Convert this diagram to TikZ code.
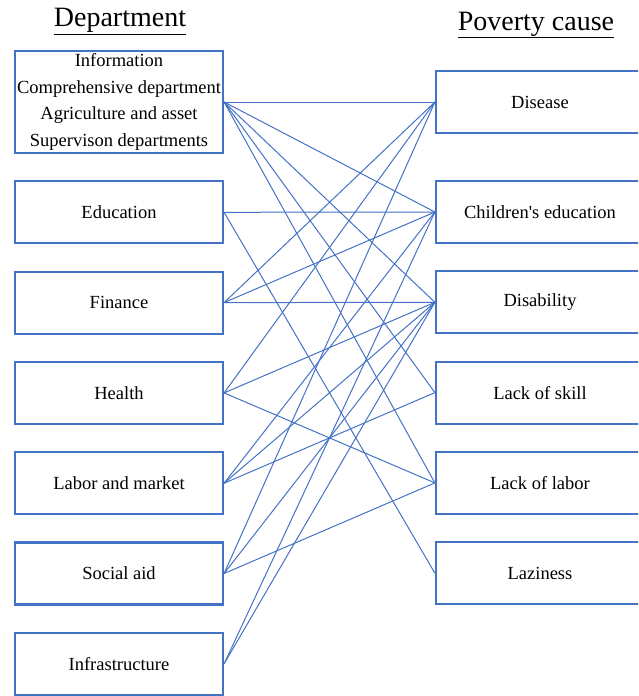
\documentclass[tikz,border=0pt]{standalone}
\usepackage{fontspec}
\setmainfont{Liberation Serif}
\usetikzlibrary{positioning}
\definecolor{linkblue}{RGB}{68,114,196}

\begin{document}
\begin{tikzpicture}[x=1pt,y=-1pt,node distance=26.1pt,
  dept/.style={draw=linkblue,line width=2.2pt,minimum width=208pt,minimum height=62pt,inner sep=1pt,align=center,font=\fontsize{18.5}{26.9}\selectfont},
  cause/.style={dept},
  head/.style={anchor=base,font=\fontsize{28}{32}\selectfont},
  link/.style={draw=linkblue,line width=1pt}]
  \useasboundingbox (0,0) rectangle (638,696);
  \clip (0,0) rectangle (638,696);
  %left
  \node[head] (depthead) at (120,27) {\underline{Department}};
  \node[dept,minimum height=102pt] (info) at (119,102) {Information\\Comprehensive department\\Agriculture and asset\\Supervison departments};
  \node[dept,below=of info] (edu) {Education};
  \node[dept,below=of edu] (fin) {Finance};
  \node[dept,below=of fin] (health) {Health};
  \node[dept,below=of health] (market) {Labor and market};
  \node[dept,below=of market] (aid) {Social aid};
  \node[dept,below=of aid] (infra) {Infrastructure};
  %right
  \node[head] (causehead) at (536,30) {\underline{Poverty cause}};
  \node[cause] (disease) at (540,102) {Disease};
  \node[cause,below=45.8pt of disease] (child) {Children\textquotesingle s education};
  \node[cause,below=of child] (disab) {Disability};
  \node[cause,below=of disab] (skill) {Lack of skill};
  \node[cause,below=of skill] (labor) {Lack of labor};
  \node[cause,below=of labor] (lazy) {Laziness};
  %links
  \foreach \from/\to in {info/disease,info/child,info/disab,info/skill,info/labor,
      edu/child,edu/lazy,fin/disease,fin/child,fin/disab,
      health/disease,health/disab,health/labor,market/child,market/disab,market/skill,
      aid/disease,aid/disab,aid/labor,infra/child,infra/disab}
    \draw[link] (\from.east) -- (\to.west);
\end{tikzpicture}
\end{document}
